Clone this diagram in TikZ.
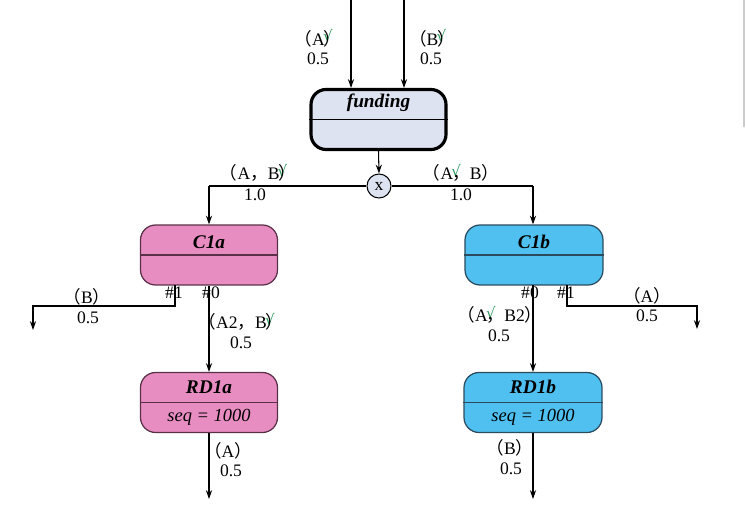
\documentclass[tikz,border=0pt]{standalone}
\usepackage{fontspec}
\setmainfont{Liberation Serif}
\newfontfamily\cjk{Noto Sans CJK SC}
\newfontfamily\symf{DejaVu Sans}
\usetikzlibrary{arrows.meta,calc}
\definecolor{fundfill}{HTML}{DDE3F1}
\definecolor{pinkfill}{HTML}{E88DC1}
\definecolor{bluefill}{HTML}{4FC0F0}
\definecolor{ckgreen}{HTML}{2E9A5E}
\definecolor{pinkline}{HTML}{5A3048}
\definecolor{blueline}{HTML}{2A4A5E}
\newcommand{\lpar}{{\cjk （}}
\newcommand{\rpar}{{\cjk ）}}
\newcommand{\fcomma}{{\cjk ，}}
\newcommand{\ck}{\kern-0.1em\raisebox{0.45ex}{\symf\color{ckgreen}\fontsize{8.5}{8.5}\selectfont √}\kern-0.5em}
\tikzset{
  conn/.style={line width=0.6pt, draw=black},
  arr/.style={conn, -{Stealth[length=5pt,width=3.5pt]}},
  lbl/.style={inner sep=0pt, font=\fontsize{10}{12}\selectfont},
  ttl/.style={inner sep=0pt, font=\fontsize{11}{12}\selectfont\bfseries\itshape},
  sub/.style={inner sep=0pt, font=\fontsize{10.5}{12}\selectfont\itshape},
  fundbox/.style={draw=black, line width=1.8pt, fill=fundfill, rounded corners=0.3cm,
    minimum width=2.7cm, minimum height=1.2cm, inner sep=0pt},
  pinkbox/.style={draw=pinkline, line width=0.7pt, fill=pinkfill, rounded corners=0.3cm,
    minimum width=2.74cm, minimum height=1.2cm, inner sep=0pt},
  bluebox/.style={draw=blueline, line width=0.7pt, fill=bluefill, rounded corners=0.3cm,
    minimum width=2.76cm, minimum height=1.2cm, inner sep=0pt},
  xcirc/.style={circle, draw=black, line width=0.6pt, fill=fundfill, minimum size=0.48cm, inner sep=0pt,
    font=\fontsize{10}{12}\selectfont},
}
\begin{document}
\begin{tikzpicture}[x=0.02cm, y=-0.02cm]
\useasboundingbox (0,0) rectangle (746,506);
% artifact line at right edge
\coordinate (edgeT) at (744,0);
\coordinate (edgeB) at (744,127);
\draw[gray!40, line width=0.6pt] (edgeT) -- (edgeB);

% boxes
\node[fundbox] (fund) at (378.5,119.5) {};
\draw[line width=0.7pt] (fund.west) -- (fund.east);
\node[ttl] (fundT) at (378.5,103) {funding};

\node[pinkbox] (C1a) at (209,255) {};
\draw[pinkline, line width=0.7pt] (C1a.west) -- (C1a.east);
\node[ttl] (C1aT) at (209,242) {C1a};

\node[bluebox] (C1b) at (534,255) {};
\draw[blueline, line width=0.7pt] (C1b.west) -- (C1b.east);
\node[ttl] (C1bT) at (534,242) {C1b};

\node[pinkbox] (RD1a) at (209,402.5) {};
\draw[pinkline, line width=0.7pt] (RD1a.west) -- (RD1a.east);
\node[ttl] (RD1aT) at (209,387) {RD1a};
\node[sub] (RD1aS) at (209,417) {seq = 1000};

\node[bluebox] (RD1b) at (533,402.5) {};
\draw[blueline, line width=0.7pt] (RD1b.west) -- (RD1b.east);
\node[ttl] (RD1bT) at (533,387) {RD1b};
\node[sub] (RD1bS) at (533,417) {seq = 1000};

\node[xcirc] (xor) at (379,186) {x};

% incoming
\coordinate (inA) at (351,0);
\coordinate (inB) at (404,0);
\draw[arr] (inA) -- (inA |- fund.north);
\draw[arr] (inB) -- (inB |- fund.north);
\node[lbl] (lA) at (318,38) {\lpar A\ck\rpar};
\node[lbl] (lA5) at (318,59) {0.5};
\node[lbl] (lB) at (432,38) {\lpar B\ck\rpar};
\node[lbl] (lB5) at (431,59) {0.5};

% funding to xor
\draw[arr] (fund.south) -- (xor.north);
\coordinate (jl) at (209,186);
\coordinate (jr) at (533,186);
\draw[conn] (xor.west) -- (jl);
\draw[arr] (jl) -- (jl |- C1a.north);
\draw[conn] (xor.east) -- (jr);
\draw[arr] (jr) -- (jr |- C1b.north);
\node[lbl] (lAB) at (258,173) {\lpar A\fcomma B\ck\rpar};
\node[lbl] (lAB1) at (255,195) {1.0};
\node[lbl] (rAB) at (461,173) {\lpar A\ck\fcomma B\rpar};
\node[lbl] (rAB1) at (461,195) {1.0};

% C1a outputs
\node[lbl] (a1n) at (174,293) {\#1};
\node[lbl] (a0n) at (211,293) {\#0};
\coordinate (a1) at (175,285);
\coordinate (a1c) at (33,306);
\coordinate (a1e) at (33,330);
\draw[arr] (a1) |- (a1c) -- (a1e);
\node[lbl] (lBa) at (87,297) {\lpar B\rpar};
\node[lbl] (lBa5) at (88,318) {0.5};
\draw[arr] (C1a.south) -- (RD1a.north);
\node[lbl] (lA2B) at (241,322) {\lpar A2\fcomma B\ck\rpar};
\node[lbl] (lA2B5) at (241,343) {0.5};

% C1b outputs
\node[lbl] (b0n) at (530,293) {\#0};
\node[lbl] (b1n) at (566,293) {\#1};
\coordinate (b1) at (567,285);
\coordinate (b1c) at (697,306);
\coordinate (b1e) at (697,329);
\draw[arr] (b1) |- (b1c) -- (b1e);
\node[lbl] (lAb) at (647,296) {\lpar A\rpar};
\node[lbl] (lAb5) at (647,316) {0.5};
\coordinate (b0) at (533,285);
\draw[arr] (b0) -- (RD1b.north);
\node[lbl] (lAB2) at (500,315) {\lpar A\ck\fcomma B2\rpar};
\node[lbl] (lAB25) at (499,336) {0.5};

% RD outputs
\coordinate (outa) at (209,499);
\coordinate (outb) at (533,499);
\draw[arr] (RD1a.south) -- (outa);
\draw[arr] (RD1b.south) -- (outb);
\node[lbl] (lRa) at (228,451) {\lpar A\rpar};
\node[lbl] (lRa5) at (231,471) {0.5};
\node[lbl] (lRb) at (510,448) {\lpar B\rpar};
\node[lbl] (lRb5) at (511,469) {0.5};
\end{tikzpicture}
\end{document}
